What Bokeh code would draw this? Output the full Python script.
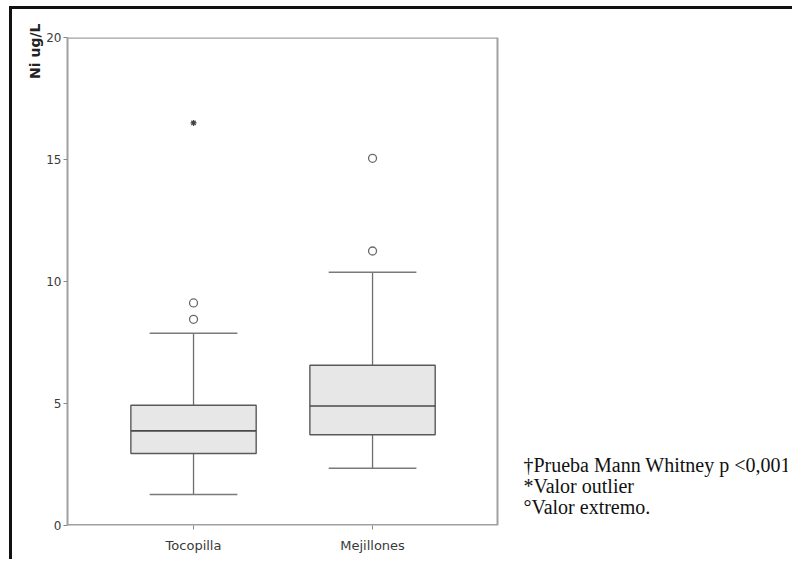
from bokeh.plotting import figure
from bokeh.models import Range1d, FixedTicker, Label, ColumnDataSource, Title
from bokeh.layouts import column
from bokeh.embed import file_html
from bokeh.resources import INLINE

# ---- data ----
categories = ["Tocopilla", "Mejillones"]
q1 = [2.95, 3.72]
median = [3.88, 4.90]
q3 = [4.93, 6.57]
whisker_low = [1.27, 2.35]
whisker_high = [7.88, 10.38]
outlier_cat = ["Tocopilla", "Tocopilla", "Mejillones", "Mejillones"]
outlier_val = [8.45, 9.12, 11.25, 15.05]
extreme_cat = ["Tocopilla"]
extreme_val = [16.5]
y_ticks = [0, 5, 10, 15, 20]
y_label = "Ni ug/L"
notes = ["\u2020Prueba Mann Whitney p <0,001", "*Valor outlier", "\u00b0Valor extremo."]

# ---- layout constants ----
BOX_W = 0.70
CAP_W = 0.49
X0, X1 = 0.296, 2.698        # visible plot box (data units)
Y0, Y1 = 0, 20
X_END = 4.318                # frame extends right to hold the notes
H = 550
pos = {c: i + 1 for i, c in enumerate(categories)}
xs = [pos[c] for c in categories]

p = figure(width=780, height=H, output_backend="svg", toolbar_location=None,
           x_range=Range1d(X0, X_END), y_range=Range1d(Y0, Y1),
           min_border_left=55, min_border_right=5, min_border_top=28, min_border_bottom=34)
p.background_fill_color = "white"
p.border_fill_color = "white"
p.outline_line_color = None
p.xgrid.visible = False
p.ygrid.visible = False

# plot box border (top, right, bottom)
p.segment(x0=[X0, X1, X0], y0=[Y1, Y0, Y0], x1=[X1, X1, X1], y1=[Y1, Y1, Y0],
          line_color="#a0a0a0", line_width=[2.6, 2, 3.2])

src = ColumnDataSource(dict(
    x=xs, q1=q1, med=median, q3=q3, lo=whisker_low, hi=whisker_high,
    bl=[x - BOX_W / 2 for x in xs], br=[x + BOX_W / 2 for x in xs],
    cl=[x - CAP_W / 2 for x in xs], cr=[x + CAP_W / 2 for x in xs],
))

# whiskers
p.segment(x0="x", y0="q3", x1="x", y1="hi", source=src, line_color="#6e6e6e", line_width=1.3)
p.segment(x0="x", y0="lo", x1="x", y1="q1", source=src, line_color="#6e6e6e", line_width=1.3)
# caps
p.segment(x0="cl", y0="hi", x1="cr", y1="hi", source=src, line_color="#7a7a7a", line_width=1.5)
p.segment(x0="cl", y0="lo", x1="cr", y1="lo", source=src, line_color="#7a7a7a", line_width=1.5)
# boxes
p.vbar(x="x", width=BOX_W, bottom="q1", top="q3", source=src,
       fill_color="#e7e7e7", line_color="#5a5a5a", line_width=1.4)
# medians
p.segment(x0="bl", y0="med", x1="br", y1="med", source=src, line_color="#4a4a4a", line_width=1.6)

# outliers / extreme values
p.scatter([pos[c] for c in outlier_cat], outlier_val, marker="circle", size=8,
          fill_color="white", line_color="#6a6a6a", line_width=1.3)
p.scatter([pos[c] for c in extreme_cat], extreme_val, marker="asterisk", size=6,
          line_color="#444444", line_width=1.2)

# axes
for ax in (p.xaxis[0], p.yaxis[0]):
    ax.axis_line_color = "#a0a0a0"
    ax.axis_line_width = 2
    ax.major_tick_line_color = "#888888"
    ax.major_tick_out = 4
    ax.major_tick_in = 0
    ax.minor_tick_line_color = None
    ax.major_label_text_font = "DejaVu Sans"
    ax.major_label_text_color = "#3a3a3a"
p.xaxis.axis_line_color = None

p.xaxis.ticker = FixedTicker(ticks=xs)
p.xaxis.major_label_overrides = {x: c for x, c in zip(xs, categories)}
p.xaxis.major_label_text_font_size = "13px"
p.xaxis.major_label_standoff = 8

p.yaxis.ticker = FixedTicker(ticks=y_ticks)
p.yaxis.major_label_text_font_size = "12px"
p.yaxis.major_label_standoff = 2

# y label at top-left, rotated
p.add_layout(Title(text=y_label, align="right", text_font="DejaVu Sans",
                   text_font_style="bold", text_font_size="14px",
                   text_color="#222222", standoff=2, offset=-14), "left")

# notes on the right (inside the extended frame)
note_y = [2.50, 1.60, 0.74]
for t, yy in zip(notes, note_y):
    p.add_layout(Label(x=2.843, y=yy, text=t, text_align="left", text_baseline="alphabetic",
                       text_font="Liberation Serif", text_font_size="20px",
                       text_color="#111111"))

layout = column(p, styles={"border-left": "3px solid #111111",
                           "border-top": "3px solid #111111",
                           "margin-left": "9px", "margin-top": "6px"})
open("out.html", "w").write(file_html(layout, INLINE))
